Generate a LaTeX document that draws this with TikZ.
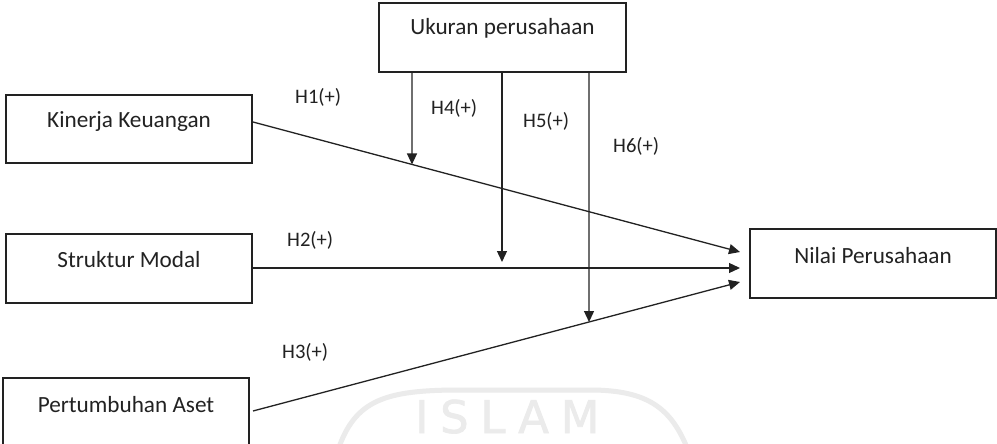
\documentclass[tikz,border=0pt]{standalone}
\usepackage{fontspec}
\setmainfont{Carlito}
\newfontfamily\wmfont[LetterSpace=26,FakeBold=1.5]{DejaVu Sans}
\usetikzlibrary{arrows.meta,calc}
\definecolor{ink}{HTML}{222222}
\definecolor{wmark}{HTML}{EBEBEB}
\tikzset{
  box/.style={draw=ink, line width=1.5pt, rectangle, inner sep=0pt, minimum width=246pt, minimum height=69pt},
  boxtext/.style={anchor=base, inner sep=0pt, text=ink, font=\fontsize{23.2}{26}\selectfont},
  hyp/.style={anchor=base west, inner sep=0pt, text=ink, font=\fontsize{20.6}{24}\selectfont},
  conn/.style={draw=ink, line width=1.3pt, -{Triangle[length=11pt,width=10pt]}},
  wm/.style={draw=wmark, line width=5pt}
}
\begin{document}
\begin{tikzpicture}[x=1pt,y=-1pt]
\useasboundingbox (0,0) rectangle (997,444);
\clip (0,0) rectangle (997,444);
\fill[white] (0,0) rectangle (997,444);
% watermark
\draw[wm] (338,450) .. controls (355,400) and (385,390) .. (460,390) -- (590,390) .. controls (650,390) and (672,410) .. (688,450);
\node[anchor=base west, inner sep=0pt, text=wmark, font=\wmfont\fontsize{45}{48}\selectfont] (wmtext) at (415,433) {ISLAM};
% boxes
\node[box, minimum height=68pt] (kin) at (129,129) {};
\node[box] (str) at (129,268.5) {};
\node[box] (per) at (126,412.5) {};
\node[box, minimum width=247pt] (uku) at (502.5,37.5) {};
\node[box] (nil) at (873,263.5) {};
\node[boxtext] (kint) at (129,128) {Kinerja Keuangan};
\node[boxtext] (strt) at (129,267) {Struktur Modal};
\node[boxtext] (pert) at (126,412) {Pertumbuhan Aset};
\node[boxtext] (ukut) at (502.5,35) {Ukuran perusahaan};
\node[boxtext] (nilt) at (873,263) {Nilai Perusahaan};
% connector ends
\coordinate (s1) at (253,122);
\coordinate (s2) at (253,268);
\coordinate (s3) at (253,411);
\coordinate (t1) at (740,252);
\coordinate (t2) at (740,268);
\coordinate (t3) at (740,282);
\draw[conn] (s1) -- (t1);
\draw[conn] (s2) -- (t2);
\draw[conn] (s3) -- (t3);
% moderating arrows
\draw[conn] (412,0 |- uku.south) -- (intersection of 412,0--412,500 and s1--t1);
\draw[conn] (502,0 |- uku.south) -- (502,262);
\draw[conn] (589,0 |- uku.south) -- (intersection of 589,0--589,500 and s3--t3);
% labels
\node[hyp] (h1) at (295,103) {H1(+)};
\node[hyp] (h4) at (431,114) {H4(+)};
\node[hyp] (h5) at (523,128) {H5(+)};
\node[hyp] (h6) at (613,152) {H6(+)};
\node[hyp] (h2) at (287,246) {H2(+)};
\node[hyp] (h3) at (282,358) {H3(+)};
\end{tikzpicture}
\end{document}
